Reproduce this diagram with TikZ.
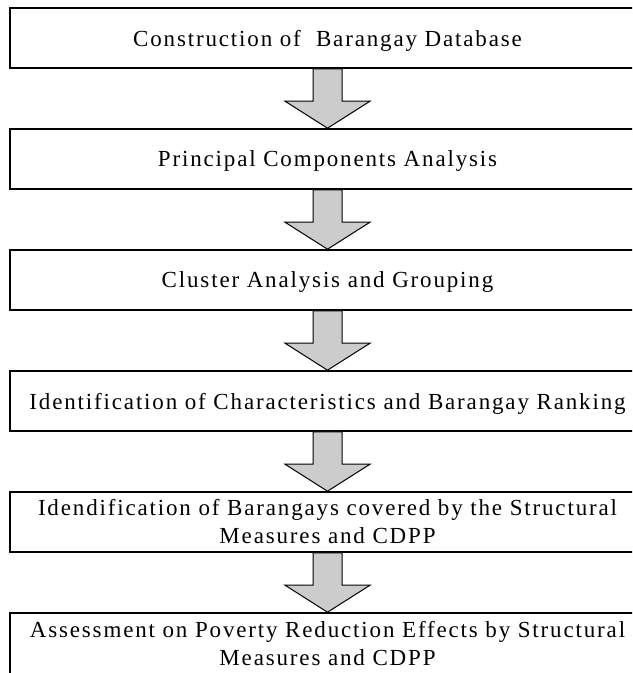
\documentclass[tikz,border=0pt]{standalone}
\usepackage{fontspec}
\setmainfont[LetterSpace=8]{Liberation Serif}
\usetikzlibrary{calc,positioning}

\begin{document}
\begin{tikzpicture}[
    font=\fontsize{11.5}{14}\selectfont,
    stage/.style={draw=black, line width=0.8pt, minimum width=317.5pt,
                  minimum height=30pt, align=center, inner sep=0pt},
    oneline/.style={stage, text depth=0pt},
    flow/.style={draw=black, line width=0.5pt, fill=black!20}
]
\useasboundingbox (0,0) rectangle (316pt,-336.5pt);
\clip (0,0) rectangle (316pt,-336.5pt);
\node[oneline] (db) at (163.75pt,-19pt) {Construction of\ \ Barangay Database};
\node[oneline, below=29.7pt of db] (pca) {Principal Components Analysis};
\node[oneline, below=29.7pt of pca] (clus) {Cluster Analysis and Grouping};
\node[oneline, below=29.7pt of clus] (rank)
    {Identification of Characteristics and Barangay Ranking};
\node[stage, below=29.7pt of rank] (cover)
    {Idendification of Barangays covered by the Structural\\Measures and CDPP};
\node[stage, below=29.7pt of cover, minimum height=31pt] (assess)
    {Assessment on Poverty Reduction Effects by Structural\\Measures and CDPP};
\foreach \a/\b in {db/pca, pca/clus, clus/rank, rank/cover, cover/assess}
    \draw[flow] ($(\a.south)+(-7.25pt,0)$) -- ($(\b.north)+(-7.25pt,13.5pt)$)
        -- ($(\b.north)+(-21.25pt,13.5pt)$) -- (\b.north)
        -- ($(\b.north)+(21.25pt,13.5pt)$) -- ($(\b.north)+(7.25pt,13.5pt)$)
        -- ($(\a.south)+(7.25pt,0)$) -- cycle;
\end{tikzpicture}
\end{document}
